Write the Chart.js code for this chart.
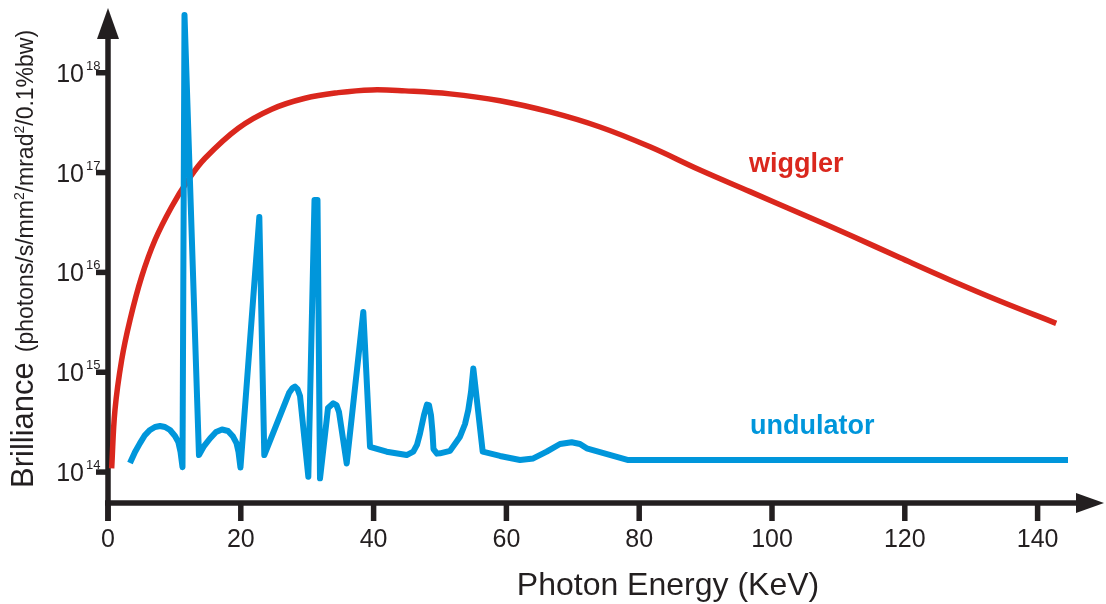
<!DOCTYPE html>
<html>
<head>
<meta charset="utf-8">
<script src="https://cdn.jsdelivr.net/npm/chart.js@4"></script>
<style>
  html, body { margin: 0; padding: 0; background: #ffffff; }
  #wrap { width: 1106px; height: 604px; position: relative; }
</style>
</head>
<body>
<div id="wrap"><canvas id="c" width="1106" height="604"></canvas></div>
<script>
// ---- data ----
const wigglerEnergy = [0.55, 1.05, 2.06, 3.31, 5.07, 7.08, 9.59, 12.09, 14.61, 19.62, 24.65, 29.67, 34.68, 39.71, 44.73, 51.51, 59.04, 66.57, 74.10, 81.63, 89.16, 96.69, 104.2, 111.7, 119.3, 126.8, 134.3, 142.8];
const wigglerBrilliance = [1.09e14, 4.18e14, 1.33e15, 3.33e15, 9.06e15, 2.11e16, 4.55e16, 8.44e16, 1.39e17, 2.78e17, 4.31e17, 5.55e17, 6.32e17, 6.73e17, 6.58e17, 6.14e17, 5.24e17, 4.05e17, 2.86e17, 1.81e17, 1.06e17, 6.44e16, 3.91e16, 2.37e16, 1.40e16, 8.40e15, 5.17e15, 3.09e15];

const undulatorEnergy = [
  3.31, 4.07, 4.82, 5.57, 6.33, 7.08, 7.83, 8.58, 9.34, 10.09, 10.59, 10.92, 11.22,
  11.52,
  13.70, 14.46, 15.36, 16.27, 17.17, 18.07, 18.83, 19.35, 19.65, 19.95,
  22.79,
  23.54, 27.26, 27.79, 28.16, 28.54, 28.92, 30.17,
  31.10, 31.55,
  31.93, 32.93, 33.13, 33.93, 34.41, 34.79, 35.95,
  38.45,
  39.46, 41.97, 44.98, 45.98, 46.53, 46.99, 47.59, 48.04, 48.34, 48.64, 48.87, 49.02, 49.55, 50.00, 51.51, 53.01, 53.77, 54.26, 54.67,
  55.02,
  56.43, 59.04, 62.05, 64.05, 66.07, 68.07, 69.83, 71.08, 72.09, 78.36, 144.58
];
const undulatorBrilliance = [
  1.23e14, 1.59e14, 1.95e14, 2.35e14, 2.64e14, 2.83e14, 2.89e14, 2.83e14, 2.64e14, 2.30e14, 2.00e14, 1.59e14, 1.12e14,
  3.79e18,
  1.48e14, 1.82e14, 2.17e14, 2.52e14, 2.67e14, 2.58e14, 2.27e14, 1.95e14, 1.59e14, 1.11e14,
  3.59e16,
  1.48e14, 6.19e14, 6.95e14, 7.19e14, 6.79e14, 5.78e14, 8.97e13,
  5.31e16, 5.31e16,
  8.65e13, 3.32e14, 4.38e14, 4.88e14, 4.69e14, 3.99e14, 1.22e14,
  4.01e15,
  1.79e14, 1.60e14, 1.48e14, 1.60e14, 1.87e14, 2.44e14, 3.72e14, 4.74e14, 4.69e14, 3.72e14, 2.52e14, 1.70e14, 1.53e14, 1.54e14, 1.63e14, 2.26e14, 3.03e14, 4.18e14, 6.34e14,
  1.09e15,
  1.60e14, 1.45e14, 1.32e14, 1.37e14, 1.60e14, 1.91e14, 1.99e14, 1.91e14, 1.73e14, 1.32e14, 1.32e14
];

const xTickValues = [0, 20, 40, 60, 80, 100, 120, 140];
const yTickExponents = [14, 15, 16, 17, 18];
const xAxisTitle = 'Photon Energy (KeV)';
const yAxisTitleMain = 'Brilliance';
const yAxisTitleUnitParts = [['(photons/s/mm', false], ['2', true], ['/mrad', false], ['2', true], ['/0.1%bw)', false]];
const seriesNames = ['wiggler', 'undulator'];

// ---- styling ----
const INK = '#231f20';
const RED = '#da271d';
const BLUE = '#0096db';
const FONT = '"Liberation Sans", Arial, Helvetica, sans-serif';

const toPoints = (xs, ys) => xs.map((v, i) => ({ x: v, y: ys[i] }));

const axesPlugin = {
  id: 'drawnAxes',
  beforeDatasetsDraw(chart) {
    const { ctx, chartArea: a, scales } = chart;
    const xs = scales.x, ys = scales.y;
    const ax = a.left, ay = a.bottom;
    ctx.save();
    ctx.strokeStyle = INK;
    ctx.fillStyle = INK;
    ctx.lineCap = 'butt';
    ctx.lineWidth = 5.5;
    // y axis line
    ctx.beginPath(); ctx.moveTo(ax, a.top + 28); ctx.lineTo(ax, ay + 18); ctx.stroke();
    // x axis line
    ctx.beginPath(); ctx.moveTo(ax - 3, ay); ctx.lineTo(a.right - 24, ay); ctx.stroke();
    // arrow heads
    ctx.beginPath(); ctx.moveTo(ax, a.top); ctx.lineTo(ax - 11, a.top + 31); ctx.lineTo(ax + 11, a.top + 31); ctx.closePath(); ctx.fill();
    ctx.beginPath(); ctx.moveTo(a.right, ay); ctx.lineTo(a.right - 28, ay - 10); ctx.lineTo(a.right - 28, ay + 10); ctx.closePath(); ctx.fill();

    // x ticks + labels
    ctx.font = '25px ' + FONT;
    ctx.textAlign = 'center';
    ctx.textBaseline = 'alphabetic';
    xTickValues.forEach(v => {
      const px = xs.getPixelForValue(v);
      ctx.beginPath(); ctx.moveTo(px, ay); ctx.lineTo(px, ay + 18); ctx.stroke();
      ctx.fillText(String(v), px, ay + 44);
    });

    // y ticks + labels
    yTickExponents.forEach(e => {
      const py = ys.getPixelForValue(Math.pow(10, e));
      ctx.beginPath(); ctx.moveTo(ax - 12, py); ctx.lineTo(ax, py); ctx.stroke();
      ctx.font = '25px ' + FONT;
      ctx.textAlign = 'right';
      ctx.fillText('10', ax - 24, py + 9);
      ctx.font = '13px ' + FONT;
      ctx.textAlign = 'left';
      ctx.fillText(String(e), ax - 22, py - 3);
    });

    // x axis title
    ctx.font = '32px ' + FONT;
    ctx.textAlign = 'center';
    ctx.fillText(xAxisTitle, 668, 595);

    // y axis title (rotated)
    ctx.save();
    ctx.translate(33, 488);
    ctx.rotate(-Math.PI / 2);
    ctx.textAlign = 'left';
    ctx.font = '31px ' + FONT;
    ctx.fillText(yAxisTitleMain, 0, 0);
    let pos = ctx.measureText(yAxisTitleMain).width + 10;
    yAxisTitleUnitParts.forEach(([txt, sup]) => {
      ctx.font = (sup ? '14px ' : '23px ') + FONT;
      ctx.fillText(txt, pos, sup ? -9 : 0);
      pos += ctx.measureText(txt).width;
    });
    ctx.restore();

    ctx.restore();
  },
  afterDatasetsDraw(chart) {
    const { ctx } = chart;
    ctx.save();
    ctx.font = 'bold 27px ' + FONT;
    ctx.textAlign = 'left';
    ctx.textBaseline = 'alphabetic';
    ctx.fillStyle = RED;
    ctx.fillText(seriesNames[0], 749, 172);
    ctx.fillStyle = BLUE;
    ctx.fillText(seriesNames[1], 750, 434);
    ctx.restore();
  }
};

new Chart(document.getElementById('c'), {
  type: 'line',
  data: {
    datasets: [
      {
        label: seriesNames[0],
        data: toPoints(wigglerEnergy, wigglerBrilliance),
        borderColor: RED,
        borderWidth: 5.5,
        pointRadius: 0,
        tension: 0.4,
        fill: false,
        order: 2
      },
      {
        label: seriesNames[1],
        data: toPoints(undulatorEnergy, undulatorBrilliance),
        borderColor: BLUE,
        borderWidth: 6,
        pointRadius: 0,
        tension: 0,
        borderJoinStyle: 'round',
        fill: false,
        order: 1
      }
    ]
  },
  options: {
    responsive: false,
    animation: false,
    devicePixelRatio: 1,
    events: [],
    layout: { padding: { left: 108, top: 8, right: 2, bottom: 101 } },
    plugins: { legend: { display: false }, tooltip: { enabled: false } },
    scales: {
      x: { type: 'linear', display: false, min: 0, max: 150, bounds: 'data' },
      y: { type: 'logarithmic', display: false, min: 4.9e13, max: 4.45e18, bounds: 'data' }
    }
  },
  plugins: [axesPlugin]
});
</script>
</body>
</html>
